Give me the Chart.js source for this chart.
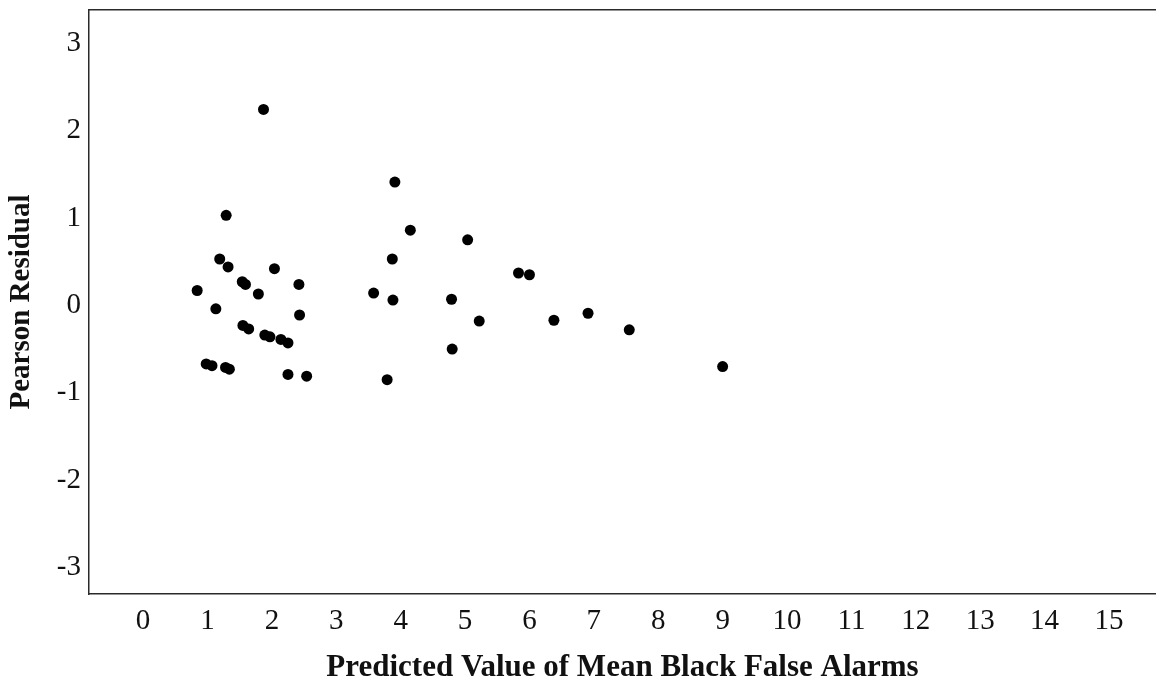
<!DOCTYPE html>
<html>
<head>
<meta charset="utf-8">
<script src="https://cdn.jsdelivr.net/npm/chart.js@4"></script>
<style>
  html, body { margin: 0; padding: 0; background: #fff; overflow: hidden; }
  #wrap { width: 1156px; height: 684px; }
</style>
</head>
<body>
<div id="wrap"><canvas id="residChart"></canvas></div>
<script>
// predicted value (x) and pearson residual (y)
const predicted = [0.84, 0.98, 1.07, 1.13, 1.19, 1.32, 1.28, 1.34, 1.29, 1.54,
  1.59, 1.55, 1.64, 1.79, 1.87, 1.89, 1.97, 2.04, 2.14, 2.25,
  2.25, 2.42, 2.43, 2.54, 3.58, 3.79, 3.87, 3.88, 3.91, 4.15,
  4.79, 4.80, 5.04, 5.22, 5.83, 6.00, 6.38, 6.91, 7.55, 9.00];
const residual = [0.17, -0.67, -0.69, -0.04, 0.53, 0.44, -0.71, -0.73, 1.03, 0.27,
  0.24, -0.23, -0.27, 0.13, 2.24, -0.34, -0.36, 0.42, -0.39, -0.43,
  -0.79, 0.24, -0.11, -0.81, 0.14, -0.85, 0.53, 0.06, 1.41, 0.86,
  0.07, -0.50, 0.75, -0.18, 0.37, 0.35, -0.17, -0.09, -0.28, -0.70];
const xTicks = [0, 1, 2, 3, 4, 5, 6, 7, 8, 9, 10, 11, 12, 13, 14, 15];
const yTicks = [-3, -2, -1, 0, 1, 2, 3];

const points = predicted.map((x, i) => ({ x: x, y: residual[i] }));
const serif = 'Liberation Serif, Times New Roman, serif';
const frame = '#2a2a2a';

// drop the label-overflow padding chart.js adds, so the frame sits where the picture has it
function noPad(s) {
  s.paddingTop = 0; s.paddingBottom = 0; s.paddingLeft = 0; s.paddingRight = 0;
}

const ctx = document.getElementById('residChart').getContext('2d');
const residChart = new Chart(ctx, {
  type: 'scatter',
  data: {
    datasets: [{
      label: 'Pearson Residual',
      data: points,
      backgroundColor: '#000',
      borderColor: '#000',
      pointRadius: 5.5,
      pointBorderWidth: 0
    }]
  },
  options: {
    responsive: true,
    maintainAspectRatio: false,
    animation: false,
    layout: { padding: 0, autoPadding: false },
    plugins: { legend: { display: false }, tooltip: { enabled: false } },
    scales: {
      x: {
        type: 'linear',
        min: -0.84,
        max: 15.73,
        afterBuildTicks: s => { s.ticks = xTicks.map(v => ({ value: v })); },
        afterFit: s => { s.height = 90; noPad(s); },
        grid: { display: false, drawTicks: false },
        border: { display: true, color: frame, width: 1.5 },
        ticks: { color: '#111', padding: 10, font: { family: serif, size: 29 } },
        title: {
          display: true,
          text: 'Predicted Value of Mean Black False Alarms',
          color: '#111',
          padding: { top: 0, bottom: -3 },
          font: { family: serif, size: 31, weight: 'bold' }
        }
      },
      top: {
        type: 'linear',
        position: 'top',
        afterFit: s => { s.height = 10; noPad(s); },
        grid: { display: false, drawTicks: false },
        border: { display: true, color: frame, width: 1.5 },
        ticks: { display: false }
      },
      y: {
        min: -3.30,
        max: 3.377,
        afterBuildTicks: s => { s.ticks = yTicks.map(v => ({ value: v })); },
        afterFit: s => { s.width = 89; noPad(s); },
        grid: { display: false, drawTicks: false },
        border: { display: true, color: frame, width: 1.5 },
        ticks: { color: '#111', padding: 8, font: { family: serif, size: 29 } },
        title: {
          display: true,
          text: 'Pearson Residual',
          color: '#111',
          padding: { top: 4, bottom: 0 },
          font: { family: serif, size: 29, weight: 'bold' }
        }
      }
    }
  }
});
</script>
</body>
</html>
